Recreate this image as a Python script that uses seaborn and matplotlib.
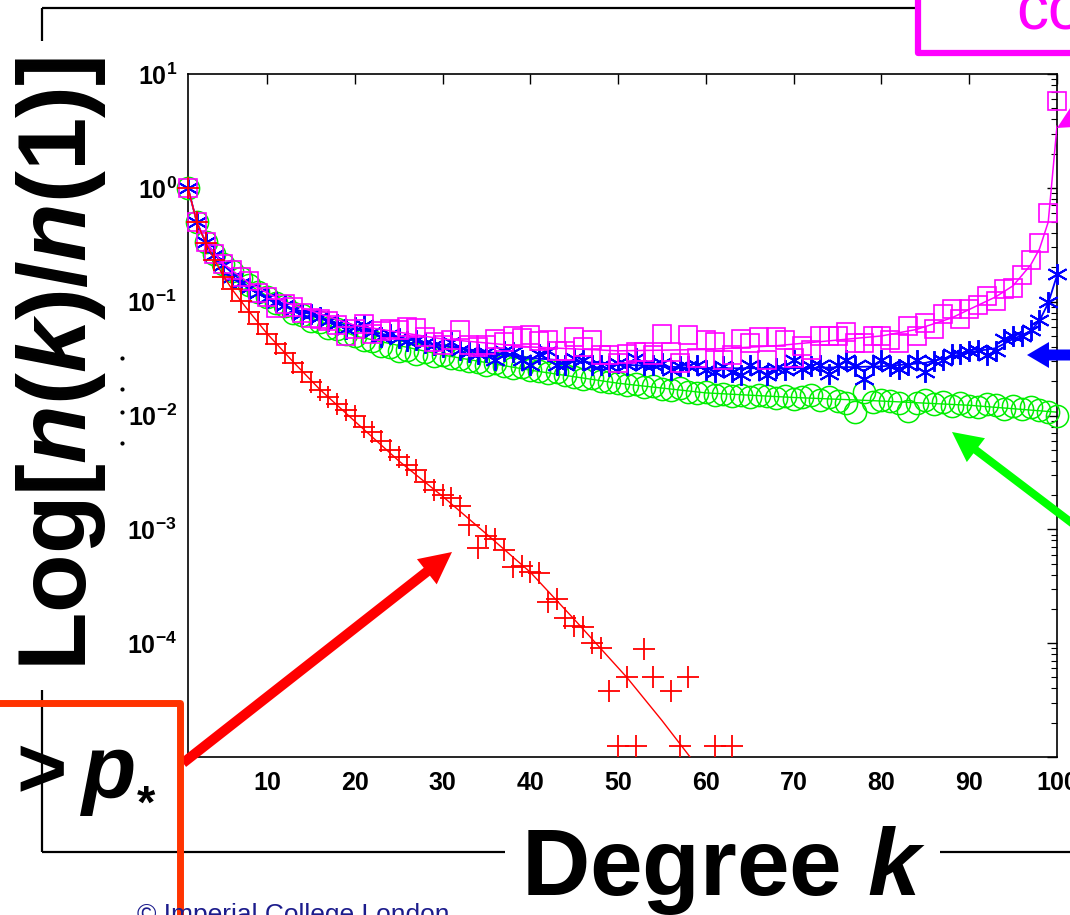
import matplotlib
matplotlib.use("Agg")
import matplotlib.pyplot as plt
import seaborn as sns
from matplotlib.patches import FancyArrow

# degree k and n(k)/n(1)
degree = list(range(1, 101))

green_ratio = [1.0, 0.50, 0.335, 0.26, 0.215, 0.185, 0.160, 0.140, 0.122, 0.110,
               0.098, 0.091, 0.080, 0.076, 0.068, 0.066, 0.059, 0.057, 0.052, 0.050,
               0.046, 0.045, 0.041, 0.040, 0.037, 0.038, 0.035, 0.036, 0.033, 0.034,
               0.032, 0.0315, 0.030, 0.0295, 0.028, 0.029, 0.027, 0.026, 0.0265, 0.025,
               0.0245, 0.0238, 0.024, 0.0225, 0.022, 0.021, 0.0215, 0.020, 0.0195, 0.0192,
               0.0185, 0.019, 0.0178, 0.0182, 0.0172, 0.0168, 0.0175, 0.016, 0.0158, 0.0162,
               0.0152, 0.0155, 0.0148, 0.015, 0.0145, 0.0152, 0.0147, 0.0142, 0.0149, 0.0140,
               0.0146, 0.0150, 0.0138, 0.0144, 0.0133, 0.0128, 0.0108, 0.0160, 0.0132, 0.0137,
               0.0135, 0.0128, 0.0110, 0.0130, 0.0137, 0.0126, 0.0132, 0.0120, 0.0128, 0.0122,
               0.0118, 0.0127, 0.0124, 0.0115, 0.0122, 0.0113, 0.0119, 0.0112, 0.0108, 0.0098]

blue_ratio = [1.0, 0.50, 0.335, 0.258, 0.21, 0.165, 0.145, 0.132, 0.118, 0.107,
              0.100, 0.094, 0.084, 0.078, 0.078, 0.074, 0.068, 0.064, 0.058, 0.060,
              0.062, 0.054, 0.049, 0.052, 0.048, 0.045, 0.046, 0.043, 0.042, 0.040,
              0.044, 0.038, 0.036, 0.035, 0.036, 0.031, 0.037, 0.036, 0.031, 0.028,
              0.035, 0.037, 0.028, 0.028, 0.032, 0.031, 0.028, 0.028, 0.027, 0.029,
              0.028, 0.032, 0.028, 0.028, 0.029, 0.025, 0.027, 0.027, 0.028, 0.025,
              0.024, 0.027, 0.024, 0.0226, 0.028, 0.025, 0.0226, 0.026, 0.025, 0.031,
              0.0256, 0.027, 0.028, 0.023, 0.028, 0.031, 0.027, 0.021, 0.028, 0.031,
              0.027, 0.0256, 0.028, 0.031, 0.024, 0.030, 0.031, 0.035, 0.035, 0.037,
              0.038, 0.034, 0.037, 0.047, 0.050, 0.050, 0.056, 0.069, 0.10, 0.174]

magenta_ratio = [1.0, 0.50, 0.335, 0.26, 0.215, 0.19, 0.165, 0.152, 0.118, 0.109,
                 0.088, 0.095, 0.089, 0.080, 0.072, 0.070, 0.068, 0.062, 0.050, 0.058,
                 0.064, 0.052, 0.055, 0.057, 0.056, 0.060, 0.059, 0.049, 0.044, 0.042,
                 0.046, 0.056, 0.042, 0.040, 0.042, 0.047, 0.044, 0.050, 0.048, 0.051,
                 0.045, 0.046, 0.037, 0.037, 0.049, 0.040, 0.046, 0.034, 0.034, 0.029,
                 0.035, 0.036, 0.036, 0.034, 0.052, 0.036, 0.029, 0.051, 0.032, 0.046,
                 0.044, 0.031, 0.034, 0.047, 0.043, 0.049, 0.031, 0.049, 0.046, 0.032,
                 0.041, 0.038, 0.050, 0.050, 0.050, 0.054, 0.043, 0.043, 0.050, 0.050,
                 0.046, 0.043, 0.061, 0.050, 0.065, 0.057, 0.078, 0.086, 0.070, 0.087,
                 0.093, 0.113, 0.102, 0.128, 0.133, 0.170, 0.234, 0.33, 0.60, 5.8]

red_degree = list(range(1, 55)) + [56, 57, 58, 61, 63]
red_ratio = [1.0, 0.5, 0.33, 0.234, 0.166, 0.129, 0.102, 0.0813, 0.0631, 0.0525,
             0.0427, 0.0355, 0.0288, 0.024, 0.0195, 0.0166, 0.0145, 0.0126, 0.0112, 0.010,
             0.0079, 0.0071, 0.006, 0.005, 0.0043, 0.0037, 0.0033, 0.0026, 0.0022, 0.002,
             0.0019, 0.0016, 0.0011, 0.00068, 0.00087, 0.00083, 0.00066, 0.00047, 0.00048, 0.00042,
             0.00041, 0.00023, 0.000245, 0.000166, 0.000141, 0.000138, 0.0001, 0.000091, 0.000038, 0.0000126,
             0.00005, 0.0000126, 0.000089, 0.00005,
             0.000038, 0.0000126, 0.00005, 0.0000126, 0.0000126]

# fitted curves
red_fit_k = [1, 2, 3, 4, 5, 6, 7, 8, 10, 13, 16, 20, 25, 30, 35, 40, 45, 51, 55, 58.2]
red_fit = [1.0, 0.5, 0.331, 0.234, 0.170, 0.129, 0.102, 0.0813, 0.0525, 0.0295,
           0.0170, 0.0089, 0.0040, 0.00195, 0.00091, 0.00042, 0.000162, 0.00005, 0.0000209, 0.00001]
green_fit_k = [1, 2, 3, 5, 8, 12, 20, 30, 40, 50, 60, 70, 80, 90, 100]
green_fit = [1.0, 0.5, 0.335, 0.215, 0.14, 0.09, 0.050, 0.034, 0.025, 0.0192,
             0.0158, 0.0144, 0.0134, 0.0123, 0.0107]
blue_fit_k = [1, 2, 3, 5, 8, 12, 20, 30, 40, 50, 60, 70, 80, 85, 88, 90, 93, 95, 97, 98, 99, 100]
blue_fit = [1.0, 0.5, 0.335, 0.21, 0.132, 0.092, 0.058, 0.041, 0.032, 0.028, 0.026,
            0.026, 0.027, 0.029, 0.033, 0.036, 0.039, 0.047, 0.055, 0.068, 0.097, 0.17]
magenta_fit_k = [1, 2, 3, 5, 8, 12, 20, 30, 40, 50, 60, 68, 75, 80, 84, 88, 91, 93, 95, 97, 98, 99, 100]
magenta_fit = [1.0, 0.5, 0.335, 0.215, 0.145, 0.099, 0.062, 0.047, 0.040, 0.037, 0.038, 0.041,
               0.046, 0.050, 0.057, 0.072, 0.093, 0.11, 0.138, 0.21, 0.29, 0.5, 3.5]

xticks = [10, 20, 30, 40, 50, 60, 70, 80, 90, 100]
yticks = [1e-5, 1e-4, 1e-3, 1e-2, 1e-1, 1e0, 1e1]
ytick_labels = ["", r"$\mathbf{10^{-4}}$", r"$\mathbf{10^{-3}}$", r"$\mathbf{10^{-2}}$",
                r"$\mathbf{10^{-1}}$", r"$\mathbf{10^{0}}$", r"$\mathbf{10^{1}}$"]

RED = "#ff0000"
GREEN = "#00ee00"
BLUE = "#0000ff"
MAGENTA = "#ff00ff"

sns.set_style("white")
plt.rcParams["font.family"] = ["Liberation Sans", "DejaVu Sans"]
plt.rcParams["text.color"] = "black"
plt.rcParams["xtick.color"] = "black"
plt.rcParams["ytick.color"] = "black"
plt.rcParams["mathtext.fontset"] = "custom"
plt.rcParams["mathtext.rm"] = "Liberation Sans:bold"
plt.rcParams["mathtext.bf"] = "Liberation Sans:bold"
plt.rcParams["mathtext.it"] = "Liberation Sans:italic:bold"

fig = plt.figure(figsize=(10.7, 9.15), dpi=100)
ax = fig.add_axes([188 / 1070, 1 - 757 / 915, (1057 - 188) / 1070, (757 - 74) / 915])
ax.set_yscale("log")

# fit lines
sns.lineplot(x=green_fit_k, y=green_fit, ax=ax, color=GREEN, lw=1, zorder=2)
sns.lineplot(x=blue_fit_k, y=blue_fit, ax=ax, color=BLUE, lw=1.3, zorder=4)
sns.lineplot(x=magenta_fit_k, y=magenta_fit, ax=ax, color=MAGENTA, lw=1.1, zorder=6)
sns.lineplot(x=red_fit_k, y=red_fit, ax=ax, color=RED, lw=1, zorder=8)

# data points
sns.lineplot(x=degree, y=green_ratio, ax=ax, linestyle="", marker="o", markersize=16,
             markerfacecolor="none", markeredgecolor=GREEN, markeredgewidth=1.1,
             zorder=3, clip_on=False)
sns.lineplot(x=degree, y=blue_ratio, ax=ax, linestyle="", marker=(6, 2, 0), markersize=15,
             markeredgecolor=BLUE, markeredgewidth=1.4, zorder=5, clip_on=False)
sns.lineplot(x=degree, y=magenta_ratio, ax=ax, linestyle="", marker="s", markersize=12.5,
             markerfacecolor="none", markeredgecolor=MAGENTA, markeredgewidth=1.2,
             zorder=7, clip_on=False)
sns.lineplot(x=red_degree, y=red_ratio, ax=ax, linestyle="", marker="+", markersize=16,
             markeredgecolor=RED, markeredgewidth=1.3, zorder=9, clip_on=False)

ax.set_xlim(1, 100)
ax.set_ylim(1e-5, 10)
ax.set_xticks(xticks)
ax.set_xticklabels([str(t) for t in xticks], fontsize=18, fontweight="bold")
ax.set_yticks(yticks)
ax.set_yticklabels(ytick_labels, fontsize=18)
ax.set_xlabel("")
ax.set_ylabel("")
ax.tick_params(which="both", direction="in", top=True, right=True, colors="black")
ax.tick_params(which="major", length=7, width=1, pad=10)
ax.tick_params(which="minor", length=4, width=0.8)
ax.tick_params(axis="y", which="major", pad=8)
for s in ax.spines.values():
    s.set_color("black")
    s.set_linewidth(1.2)

# slide decorations, drawn in pixel coordinates
ov = fig.add_axes([0, 0, 1, 1], zorder=10)
ov.set_xlim(0, 1070)
ov.set_ylim(915, 0)
ov.axis("off")
ov.patch.set_alpha(0)

for xs, ys in [([42, 918], [8, 8]), ([42, 42], [8, 41]), ([42, 42], [690, 852]),
               ([42, 505], [852, 852]), ([940, 1075], [852, 852])]:
    ov.plot(xs, ys, color="black", lw=1.6, solid_capstyle="butt")

ov.text(61, 364, r"Log[$\mathit{n(k)/n(1)}$]", rotation=90, ha="center", va="center",
        fontsize=69, fontweight="bold", color="black")
ov.text(724, 895, r"Degree $\mathit{k}$", ha="center", va="baseline",
        fontsize=68, fontweight="bold", color="black")
ov.text(137, 922, "\u00a9 Imperial College London", ha="left", va="baseline",
        fontsize=19, color="#1c1c8c")

# red box with p*
ov.plot([-10, 180, 180], [703, 703, 925], color="#ff3300", lw=5, solid_joinstyle="round")
ov.text(16, 797, ">", ha="left", va="baseline", fontsize=62, fontweight="bold", color="black")
ov.text(80, 797, r"$\mathit{p}$", ha="left", va="baseline", fontsize=64, color="black")
ov.text(137, 818, "*", ha="left", va="baseline", fontsize=34, fontweight="bold", color="black")

# magenta box
ov.plot([918, 918, 1080], [-10, 53, 53], color=MAGENTA, lw=4.5, solid_joinstyle="round")
ov.text(1016, 30, "co", ha="left", va="baseline", fontsize=46, color=MAGENTA)

for yy in [358, 389, 412, 443]:
    ov.plot([122], [yy], marker="o", markersize=2, color="black")

# arrows
ov.add_patch(FancyArrow(183, 763, 452 - 183, 552 - 763, width=10, head_width=32,
                        head_length=32, length_includes_head=True, color=RED, lw=0))
ov.add_patch(FancyArrow(1085, 533, 952 - 1085, 432 - 533, width=8, head_width=30,
                        head_length=30, length_includes_head=True, color="#00ff00", lw=0))
ov.add_patch(FancyArrow(1085, 355, 1027 - 1085, 0, width=11, head_width=26,
                        head_length=22, length_includes_head=True, color=BLUE, lw=0))
ov.add_patch(FancyArrow(1126, 88, 1057 - 1126, 128 - 88, width=9, head_width=30,
                        head_length=30, length_includes_head=True, color=MAGENTA, lw=0))

fig.savefig("out.png", dpi=100)
